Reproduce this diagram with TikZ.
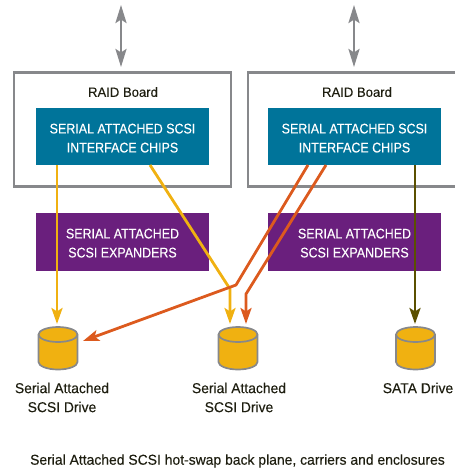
\documentclass[tikz,border=0pt]{standalone}
\usepackage{fontspec}
\setmainfont[FakeStretch=0.97,FakeBold=0.25]{Liberation Sans}
\newfontfamily\capsfont[FakeStretch=0.89,FakeBold=0.25]{Liberation Sans}
\usetikzlibrary{arrows.meta}

\definecolor{chipteal}{HTML}{00749A}
\definecolor{exppurple}{HTML}{6A1F7D}
\definecolor{drivegold}{HTML}{F0B111}
\definecolor{linkorange}{HTML}{DC5A1E}
\definecolor{linkolive}{HTML}{5B5000}
\definecolor{boardgray}{HTML}{87888B}
\definecolor{labelink}{HTML}{1E1E10}

\begin{document}
\begin{tikzpicture}[
  x=1pt, y=-1pt,
  every node/.style={inner sep=0pt, outer sep=0pt, font=\fontsize{14.3}{19}\selectfont, align=center, text=labelink},
  board/.style={draw=boardgray, line width=2.6pt, minimum width=#1, minimum height=114pt},
  raid/.style={font=\fontsize{13.5}{19}\selectfont},
  chips/.style={fill=chipteal, text=white, font=\capsfont\fontsize{14}{19}\selectfont, minimum width=173pt, minimum height=57pt},
  expander/.style={fill=exppurple, text=white, font=\capsfont\fontsize{14}{19}\selectfont, minimum width=173pt, minimum height=58pt},
  drive/.style={minimum width=39pt, minimum height=43pt},
  can/.style={draw=boardgray, line width=1.7pt, fill=drivegold},
  hostlink/.style={draw=boardgray, line width=2.6pt, {Stealth[length=18pt,width=11pt,inset=3.5pt]}-{Stealth[length=18pt,width=11pt,inset=3.5pt]}},
  link/.style={line width=2.8pt, -{Stealth[length=16pt,width=11pt,inset=3.5pt]}, line join=round}
]
\clip (0,0) rectangle (455,472);
% boards
\node[board=217pt] (boardA) at (122.5,129.5) {};
\node[board=217pt] (boardB) at (356.5,129.5) {};
\node[raid] (raidA) at (123,92) {RAID Board};
\node[raid] (raidB) at (357,92) {RAID Board};
% chips and expanders
\node[chips] (chipsA) at (122.5,136.5) {\rule{0pt}{13pt}SERIAL ATTACHED SCSI\\INTERFACE CHIPS};
\node[chips] (chipsB) at (354.5,136.5) {\rule{0pt}{13pt}SERIAL ATTACHED SCSI\\INTERFACE CHIPS};
\node[expander] (expA) at (122.5,242) {\rule{0pt}{12pt}SERIAL ATTACHED\\SCSI EXPANDERS};
\node[expander] (expB) at (354.5,242) {\rule{0pt}{12pt}SERIAL ATTACHED\\SCSI EXPANDERS};
% drives
\node[drive] (driveA) at (58,348) {};
\node[drive] (driveB) at (238,348) {};
\node[drive] (driveC) at (415.5,348) {};
\foreach \d in {driveA,driveB,driveC}{
  \begin{scope}[shift={(\d.center)}]
    \draw[can] (-19.5,-13.5) -- (-19.5,14) arc[start angle=180, end angle=360, x radius=19.5pt, y radius=7.5pt] -- (19.5,-13.5) arc[start angle=0, end angle=180, x radius=19.5pt, y radius=7.5pt] -- cycle;
    \draw[can, fill=none] (-19.5,-13.5) arc[start angle=180, end angle=360, x radius=19.5pt, y radius=7.5pt];
  \end{scope}
}
\node (labelA) at (62,397.5) {Serial Attached\\SCSI Drive};
\node (labelB) at (239,397.5) {Serial Attached\\SCSI Drive};
\node (labelC) at (418,388) {SATA Drive};
\node[font=\fontsize{14.35}{19}\selectfont] (caption) at (237.5,461) {Serial Attached SCSI hot-swap back plane, carriers and enclosures};
% free ends
\coordinate (hostA) at (121,5);
\coordinate (hostB) at (354,5);
\coordinate (gateA) at (121,67);
\coordinate (gateB) at (354,67);
\coordinate (tipA) at (57,324);
\coordinate (tipB) at (230,324);
\coordinate (tipC) at (246,324);
\coordinate (tipD) at (415,324);
\coordinate (tipE) at (83,341);
\coordinate (bendA) at (230,289);
\coordinate (bendB) at (236,285);
\coordinate (bendC) at (246,294);
% connectors
\draw[hostlink] (hostA) -- (gateA);
\draw[hostlink] (hostB) -- (gateB);
\draw[link, drivegold] (chipsA.south -| tipA) -- (tipA);
\draw[link, drivegold] (chipsA.south -| 150,0) -- (bendA) -- (tipB);
\draw[link, linkorange] (chipsB.south -| 308,0) -- (bendB) -- (tipE);
\draw[link, linkorange] (chipsB.south -| 326,0) -- (bendC) -- (tipC);
\draw[link, linkolive] (chipsB.south -| tipD) -- (tipD);
\end{tikzpicture}
\end{document}
